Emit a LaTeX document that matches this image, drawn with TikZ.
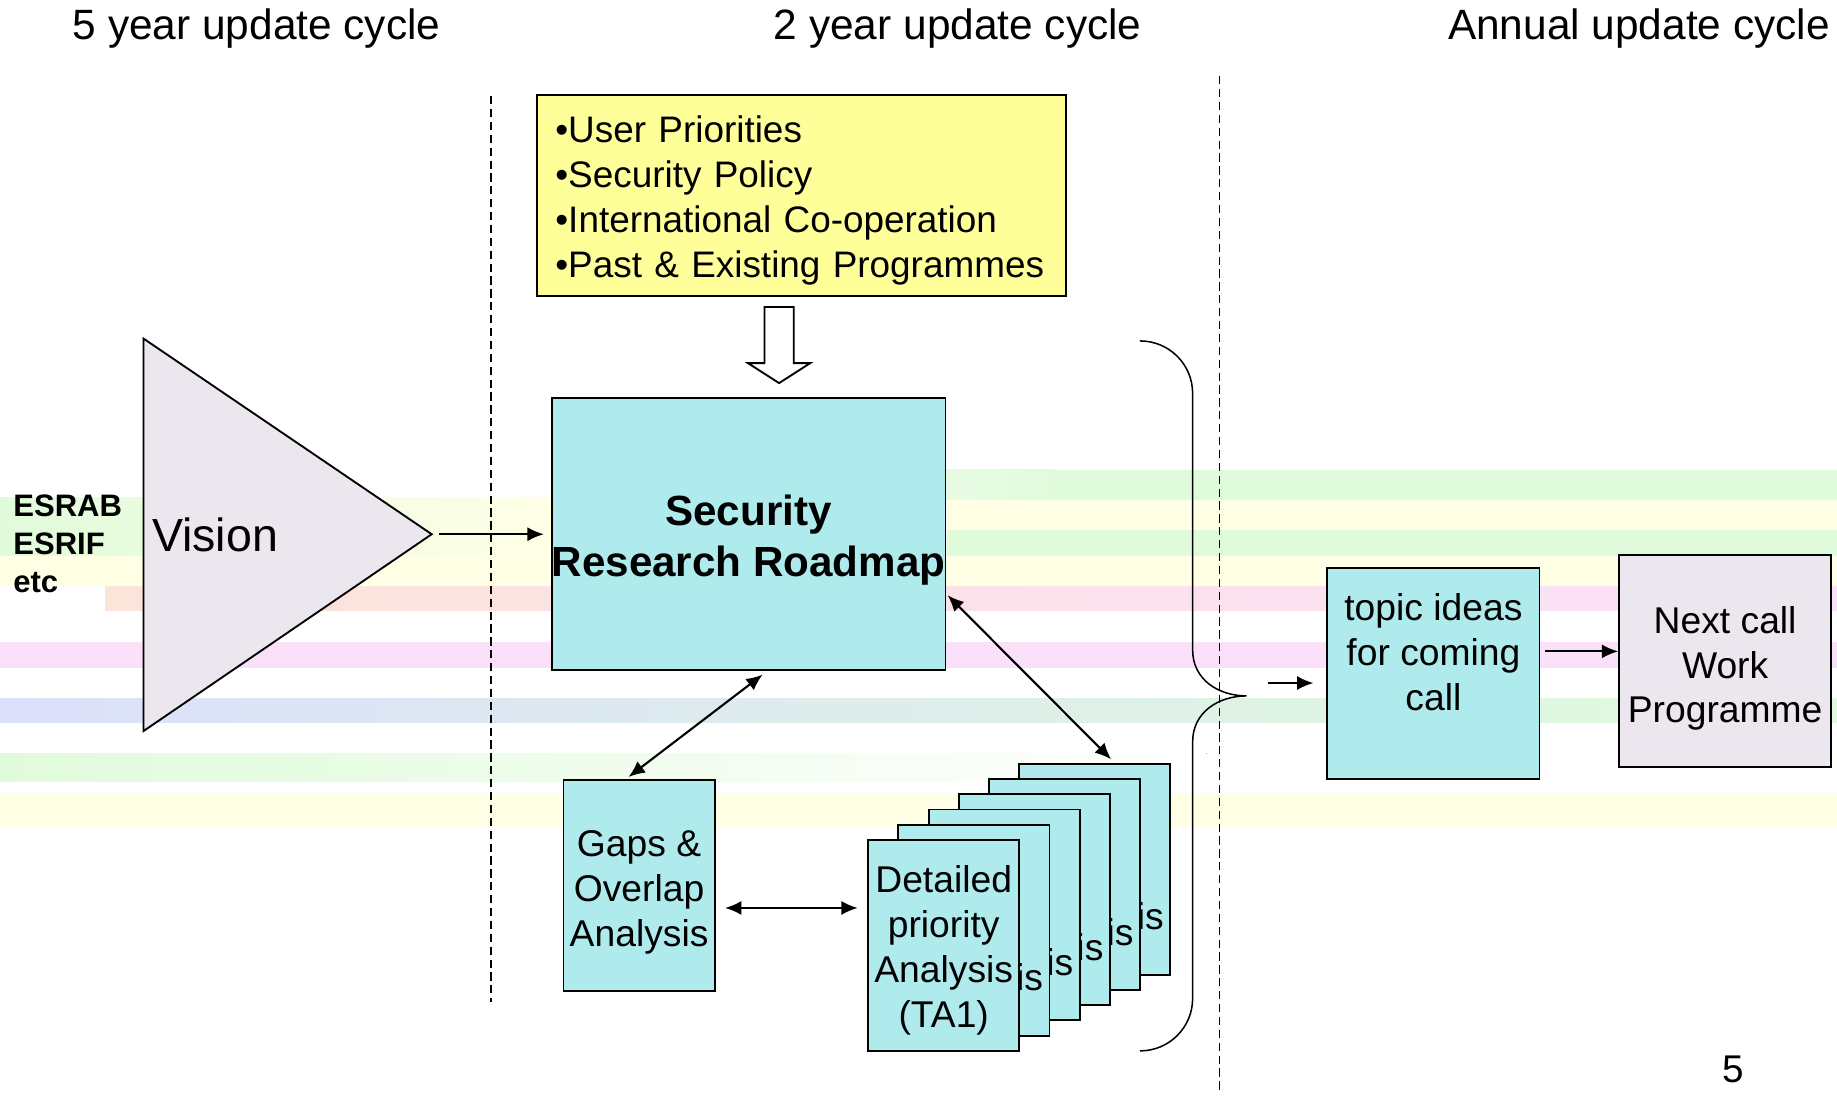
\documentclass[tikz,border=0pt]{standalone}
\usepackage{fontspec}
\setmainfont{Liberation Sans}
\usetikzlibrary{arrows.meta,calc}
\definecolor{turq}{RGB}{175,235,237}
\definecolor{lav}{RGB}{236,230,239}
\definecolor{yel}{RGB}{255,255,153}
\definecolor{stgreen}{RGB}{224,251,219}
\definecolor{styellow}{RGB}{255,255,230}
\definecolor{stpink}{RGB}{251,224,250}
\definecolor{stsalmon}{RGB}{251,228,217}
\definecolor{stblue}{RGB}{220,224,250}
\newcommand{\fsbox}{\fontsize{15.9pt}{19.2pt}\selectfont}
\newcommand{\fsinp}{\fontsize{15.75pt}{19.1pt}\selectfont}
\newcommand{\fstitle}{\fontsize{18.1pt}{21.7pt}\selectfont}
\newcommand{\fsbig}{\fontsize{18pt}{22pt}\selectfont}
\newcommand{\fsvision}{\fontsize{19.85pt}{23pt}\selectfont}
\newcommand{\fsesr}{\fontsize{13.25pt}{16.25pt}\selectfont}
\begin{document}
\begin{tikzpicture}[x=0.5pt,y=-0.5pt,
  box/.style={draw=black, line width=0.8pt, inner sep=0pt},
  boxtext/.style={inner sep=0pt, align=center, font=\fsbox},
  card/.style={box, fill=turq, minimum width=64.5pt, minimum height=90pt},
  arr/.style={-{Latex[length=7pt,width=6pt]}, line width=0.9pt},
  darr/.style={{Latex[length=7pt,width=6pt]}-{Latex[length=7pt,width=6pt]}, line width=0.9pt},
  divider/.style={dash pattern=on 3.5pt off 2pt, line width=0.75pt},
  title/.style={font=\fstitle, anchor=base, inner sep=0pt}]
\useasboundingbox (0,0) rectangle (1568,936);
\fill[white] (0,0) rectangle (1568,936);
% faint background stripes
\fill[left color=stgreen, right color=styellow] (0,425) rectangle (470,475);
\fill[left color=white, right color=stgreen] (560,401) rectangle (900,427);
\fill[stgreen] (900,401) rectangle (1568,427);
\fill[styellow] (808,427) rectangle (1568,452);
\fill[stgreen] (808,452) rectangle (1568,475);
\fill[styellow] (0,475) rectangle (1568,500);
\fill[left color=stsalmon, right color=stpink] (90,501) rectangle (1568,521);
\fill[stpink] (0,548) rectangle (1568,570);
\fill[left color=stblue, right color=stgreen] (0,596) rectangle (1568,617);
\fill[left color=stgreen, right color=white] (0,643) rectangle (1030,667);
\fill[styellow] (0,677) rectangle (1568,706);

% titles
\node[title] (t1) at (219,34) {5 year update cycle};
\node[title] (t2) at (817.5,34) {2 year update cycle};
\node[title] (t3) at (1399,34) {Annual update cycle};

% dividers
\draw[divider] (419,82) -- (419,855);
\draw[divider] (1041,65) -- (1041,932);

% left side
\node[anchor=west, inner sep=0pt, align=left, font=\fsesr\bfseries] (esr) at (11,464) {ESRAB\\ESRIF\\etc};
\draw[line width=0.8pt, fill=lav] (122.5,289) coordinate (vtop) -- (368.5,456) coordinate (vtip) -- (122.5,624) coordinate (vbot) -- cycle;
\node[anchor=west, inner sep=0pt, font=\fsvision] (vision) at (129.5,456.5) {Vision};

% inputs box
\node[box, fill=yel, minimum width=226pt, minimum height=86pt] (inputs) at (684,167) {};
\node[boxtext, font=\fsinp, text width=212pt, align=left] (inputstext) at ($(inputs.center)+(2,4)$)
  {•User Priorities\\•Security Policy\\•International Co-operation\\•Past \& Existing Programmes};
\draw[line width=0.8pt, fill=white] (652.5,262) -- (677.5,262) -- (677.5,310) -- (691.5,310) -- (665,327) -- (638.5,310) -- (652.5,310) -- cycle;

% roadmap
\node[box, fill=turq, minimum width=168pt, minimum height=116pt] (srr) at (639,456) {};
\node[boxtext, font=\fsbig\bfseries] (srrtext) at ($(srr.center)+(0,5)$) {Security\\Research Roadmap};
\draw[arr] ($(vtip)+(6,0)$) -- ($(srr.west)+(-6,0)$);

% gaps
\node[card] (gaps) at (545.5,756) {};
\node[boxtext] (gapstext) at ($(gaps.center)+(0,6)$) {Gaps \&\\Overlap\\Analysis};

% card stack
\foreach \k in {5,4,3,2,1} {
  \node[card] (card\k) at ({805.5+25.8*\k},{807-13*\k}) {};
  \node[anchor=base east, inner sep=0pt, font=\fsbox] (cardtext\k) at ($(card\k.east)+(-6,51.8)$) {is};
}
\node[card] (card0) at (805.5,807) {};
\node[boxtext] (card0text) at ($(card0.center)+(0,4.5)$) {Detailed\\priority\\Analysis\\(TA1)};

\draw[darr] ($(srr.south)+(12,3)$) -- ($(gaps.north)+(-9,-2)$);
\draw[darr] ($(srr.east)+(1,52)$) -- ($(card5.north)+(14,-3)$);
\draw[darr] ($(gaps.east)+(8,19)$) -- ($(card0.west)+(-8,-32)$);

% brace
\coordinate (bracetip) at (1064,594);
\draw[line width=0.65pt] (973,291) .. controls (998,291) and (1018,311) .. (1018,336) -- (1018,555)
  .. controls (1018,580) and (1040,594) .. (bracetip)
  .. controls (1040,594) and (1018,608) .. (1018,633) -- (1018,852)
  .. controls (1018,877) and (998,897) .. (973,897);

% right side
\node[box, fill=turq, minimum width=90.5pt, minimum height=90pt] (topic) at (1223.5,575) {};
\node[boxtext] (topictext) at (1223.5,557) {topic ideas\\for coming\\call};
\node[box, fill=lav, minimum width=90.5pt, minimum height=90.5pt] (next) at (1472.5,564.5) {};
\node[boxtext] (nexttext) at ($(next.center)+(0,6)$) {Next call\\Work\\Programme};
\draw[arr] ($(bracetip)+(18,-11)$) -- ($(topic.west)+(-11,8)$);
\draw[arr] ($(topic.east)+(4,-19)$) -- ($(next.west)+(0,-8.5)$);

\node[inner sep=0pt, anchor=base, font=\fontsize{16.5pt}{19pt}\selectfont] (pg) at (1479.5,924) {5};
\end{tikzpicture}
\end{document}
